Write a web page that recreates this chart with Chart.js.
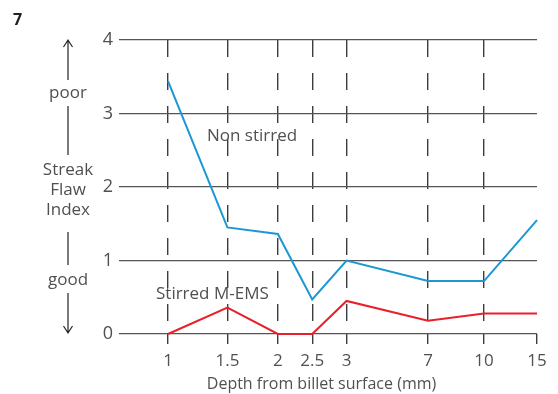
<!DOCTYPE html>
<html>
<head>
<meta charset="utf-8">
<script src="https://cdn.jsdelivr.net/npm/chart.js@4/dist/chart.umd.min.js"></script>
<style>
  html, body { margin: 0; padding: 0; background: #fff; }
  #wrap { width: 558px; height: 394px; position: relative; }
</style>
</head>
<body>
<div id="wrap"><canvas id="c" width="558" height="394"></canvas></div>
<script>
// Depths (mm) measured from the billet surface, shown as tick labels
const depthLabels = ['1', '1.5', '2', '2.5', '3', '7', '10', '15'];
// Where each depth sits along the (non-proportional) horizontal axis
const depthSlots = [0, 1.40, 2.59, 3.40, 4.21, 6.13, 7.45, 8.70];
// Streak flaw index per depth
const nonStirred = [3.44, 1.45, 1.36, 0.47, 1.00, 0.72, 0.72, 1.55];
const stirredMEMS = [0.00, 0.36, 0.00, 0.00, 0.45, 0.18, 0.28, 0.28];
// Index tick values
const indexTicks = [0, 1, 2, 3, 4];

const FONT = '"Open Sans", "Liberation Sans", Arial, sans-serif';
const TEXT = '#505050';

const toPoints = vals => vals.map((v, i) => ({ x: depthSlots[i], y: v }));

const annotations = {
  id: 'annotations',
  afterDraw(chart) {
    const ctx = chart.ctx;
    ctx.save();
    // figure number
    ctx.fillStyle = '#222';
    ctx.font = 'bold 16px ' + FONT;
    ctx.textAlign = 'left';
    ctx.textBaseline = 'alphabetic';
    ctx.fillText('7', 13, 25);

    // left-hand quality scale
    ctx.fillStyle = TEXT;
    ctx.font = '17px ' + FONT;
    ctx.textAlign = 'center';
    const cx = 68;
    ctx.fillText('poor', cx, 98);
    ctx.fillText('Streak', cx, 175);
    ctx.fillText('Flaw', cx, 195);
    ctx.fillText('Index', cx, 215);
    ctx.fillText('good', cx, 285);

    ctx.strokeStyle = '#222';
    ctx.lineWidth = 1.2;
    ctx.beginPath();
    ctx.moveTo(cx, 40); ctx.lineTo(cx, 80);
    ctx.moveTo(cx - 4.5, 47); ctx.lineTo(cx, 40); ctx.lineTo(cx + 4.5, 47);
    ctx.moveTo(cx, 106); ctx.lineTo(cx, 155);
    ctx.moveTo(cx, 232); ctx.lineTo(cx, 265);
    ctx.moveTo(cx, 293); ctx.lineTo(cx, 333);
    ctx.moveTo(cx - 4.5, 326); ctx.lineTo(cx, 333); ctx.lineTo(cx + 4.5, 326);
    ctx.stroke();

    // series names
    ctx.textAlign = 'left';
    ctx.fillText('Non stirred', 207, 141);
    ctx.fillText('Stirred M-EMS', 156, 299);

    // axis title
    ctx.textAlign = 'center';
    ctx.font = '16px ' + FONT;
    ctx.fillText('Depth from billet surface (mm)', 321.5, 389);
    ctx.restore();
  }
};

new Chart(document.getElementById('c'), {
  type: 'line',
  data: {
    datasets: [
      {
        label: 'Non stirred',
        data: toPoints(nonStirred),
        borderColor: '#1b98d2',
        borderWidth: 2,
        pointRadius: 0,
        tension: 0,
        fill: false,
        clip: 4
      },
      {
        label: 'Stirred M-EMS',
        data: toPoints(stirredMEMS),
        borderColor: '#e8202a',
        borderWidth: 2,
        pointRadius: 0,
        tension: 0,
        fill: false,
        clip: 4
      }
    ]
  },
  options: {
    responsive: false,
    animation: false,
    devicePixelRatio: 1,
    layout: { padding: { left: 0, right: 21, top: 40, bottom: 0 } },
    plugins: {
      legend: { display: false },
      tooltip: { enabled: false }
    },
    scales: {
      x: {
        type: 'linear',
        min: -1.156,
        max: depthSlots[depthSlots.length - 1],
        afterBuildTicks: scale => {
          scale.ticks = depthSlots.map(v => ({ value: v }));
        },
        afterFit: scale => { scale.height = 60; },
        border: { display: false, dash: [17, 16] },
        grid: {
          color: c => (c.index === depthSlots.length - 1 ? 'rgba(0,0,0,0)' : '#3c3c3c'),
          lineWidth: 1.4,
          drawTicks: true,
          tickLength: 10,
          tickColor: '#3c3c3c',
          tickWidth: 1.4,
          tickBorderDash: []
        },
        ticks: {
          autoSkip: false,
          maxRotation: 0,
          padding: 7,
          color: TEXT,
          font: { family: FONT, size: 17 },
          callback: (v, i) => depthLabels[i]
        }
      },
      y: {
        min: indexTicks[0],
        max: indexTicks[indexTicks.length - 1],
        afterBuildTicks: scale => {
          scale.ticks = indexTicks.map(v => ({ value: v }));
        },
        afterFit: scale => { scale.width = 119; },
        border: { display: false },
        grid: {
          color: '#555',
          lineWidth: 1.2,
          drawTicks: false
        },
        ticks: {
          padding: 6,
          color: TEXT,
          font: { family: FONT, size: 18 }
        }
      }
    }
  },
  plugins: [annotations]
});
</script>
</body>
</html>
